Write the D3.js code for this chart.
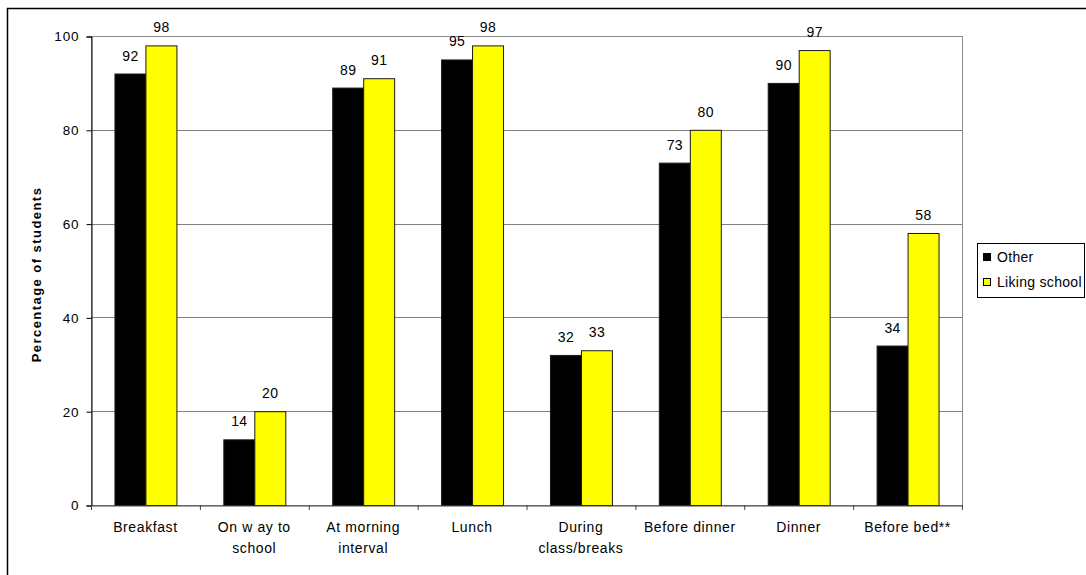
<!DOCTYPE html>
<html>
<head>
<meta charset="utf-8">
<script src="https://cdn.jsdelivr.net/npm/d3@7"></script>
<style>
  html, body { margin: 0; padding: 0; background: #fff; }
  svg { display: block; font-family: "Liberation Sans", Arial, sans-serif; }
</style>
</head>
<body>
<svg id="chart" width="1086" height="575"></svg>
<script>
// Meal / time-of-day categories (x labels, may wrap to two lines)
const categories = [
  ["Breakfast"],
  ["On w ay to", "school"],
  ["At morning", "interval"],
  ["Lunch"],
  ["During", "class/breaks"],
  ["Before dinner"],
  ["Dinner"],
  ["Before bed**"]
];
const seriesNames = ["Other", "Liking school"];
const otherValues = [92, 14, 89, 95, 32, 73, 90, 34];
const likingValues = [98, 20, 91, 98, 33, 80, 97, 58];
const yTicks = [0, 20, 40, 60, 80, 100];
const colors = ["#000000", "#ffff00"];

const svg = d3.select("#chart");

const plot = { left: 91, right: 962, top: 36, bottom: 505 };

const x0 = d3.scaleBand()
  .domain(d3.range(categories.length))
  .range([plot.left, plot.right])
  .padding(0);

const x1 = d3.scaleBand()
  .domain(seriesNames)
  .range([0, x0.bandwidth()])
  .paddingInner(0)
  .paddingOuter(0.757);

const y = d3.scaleLinear().domain([0, 100]).range([plot.bottom, plot.top]);

// Outer frame of the figure
svg.append("rect")
  .attr("x", 7.5).attr("y", 8.5)
  .attr("width", 1200).attr("height", 700)
  .attr("fill", "none").attr("stroke", "#000").attr("stroke-width", 1.5);

// Plot area outline (top and right in grey)
svg.append("rect")
  .attr("x", plot.left + 0.5).attr("y", plot.top + 0.5)
  .attr("width", plot.right - plot.left).attr("height", plot.bottom - plot.top)
  .attr("fill", "#fff").attr("stroke", "#8c8c8c").attr("stroke-width", 1);

// Horizontal gridlines
svg.append("g")
  .selectAll("line")
  .data(yTicks.filter(d => d > 0 && d < 100))
  .join("line")
  .attr("x1", plot.left).attr("x2", plot.right)
  .attr("y1", d => Math.round(y(d)) + 0.5).attr("y2", d => Math.round(y(d)) + 0.5)
  .attr("stroke", "#808080").attr("stroke-width", 1);

// Bars
const rows = categories.map((c, i) => ({ i, vals: [otherValues[i], likingValues[i]] }));

const groups = svg.append("g")
  .selectAll("g")
  .data(rows)
  .join("g")
  .attr("transform", d => `translate(${x0(d.i)},0)`);

groups.selectAll("rect")
  .data(d => d.vals.map((v, k) => ({ name: seriesNames[k], v, k })))
  .join("rect")
  .attr("x", d => x1(d.name) + 0.5)
  .attr("y", d => y(d.v) + 0.5)
  .attr("width", x1.bandwidth())
  .attr("height", d => y(0) - y(d.v))
  .attr("fill", d => colors[d.k])
  .attr("stroke", "#1a1a1a")
  .attr("stroke-width", 1);

// Value labels above bars
groups.selectAll("text")
  .data(d => d.vals.map((v, k) => ({ name: seriesNames[k], v, k })))
  .join("text")
  .attr("x", d => x1(d.name) + x1.bandwidth() / 2 + 0.5)
  .attr("y", d => y(d.v) - 13)
  .attr("text-anchor", "middle")
  .attr("font-size", 14)
  .attr("letter-spacing", 0.4)
  .attr("fill", "#000")
  .text(d => d.v);

// Y axis
const yAxis = d3.axisLeft(y).tickValues(yTicks).tickSize(5).tickPadding(7);
const gy = svg.append("g")
  .attr("transform", `translate(${plot.left + 0.5},0.5)`)
  .call(yAxis);
gy.select(".domain").attr("stroke", "#000");
gy.selectAll(".tick line").attr("stroke", "#000");
gy.selectAll(".tick text")
  .attr("font-size", 13.5).attr("letter-spacing", 0.9)
  .attr("font-family", "Liberation Sans, Arial, sans-serif")
  .attr("fill", "#000");

// X axis: baseline with ticks at category boundaries
const xAxis = d3.axisBottom(x0).tickSize(0).tickFormat("");
const gx = svg.append("g")
  .attr("transform", `translate(0,${plot.bottom + 0.5})`)
  .call(xAxis);
gx.select(".domain").attr("stroke", "#444");

svg.append("g")
  .selectAll("line")
  .data(d3.range(categories.length + 1))
  .join("line")
  .attr("x1", i => (i < categories.length ? x0(i) : plot.right) + 0.5)
  .attr("x2", i => (i < categories.length ? x0(i) : plot.right) + 0.5)
  .attr("y1", plot.bottom)
  .attr("y2", plot.bottom + 5)
  .attr("stroke", "#444");

// Category labels
const xl = svg.append("g")
  .selectAll("text")
  .data(categories.map((c, i) => ({ c, i })))
  .join("text")
  .attr("x", d => x0(d.i) + x0.bandwidth() / 2)
  .attr("y", 532)
  .attr("text-anchor", "middle")
  .attr("font-size", 14)
  .attr("letter-spacing", 0.6)
  .attr("fill", "#000");
xl.selectAll("tspan")
  .data(d => d.c.map((line, j) => ({ line, j, x: x0(d.i) + x0.bandwidth() / 2 })))
  .join("tspan")
  .attr("x", d => d.x)
  .attr("dy", d => d.j === 0 ? 0 : 20.5)
  .text(d => d.line);

// Y axis title
svg.append("text")
  .attr("transform", `translate(41,${(plot.top + plot.bottom) / 2 + 4}) rotate(-90)`)
  .attr("text-anchor", "middle")
  .attr("font-size", 13)
  .attr("font-weight", "bold")
  .attr("letter-spacing", 1.45)
  .attr("fill", "#000")
  .text("Percentage of students");

// Legend
const legend = svg.append("g");
legend.append("rect")
  .attr("x", 977.5).attr("y", 243.5)
  .attr("width", 107).attr("height", 54)
  .attr("fill", "#fff").attr("stroke", "#000").attr("stroke-width", 1);
const items = legend.selectAll("g.item")
  .data(seriesNames)
  .join("g")
  .attr("class", "item")
  .attr("transform", (d, i) => `translate(0,${i * 25})`);
items.append("rect")
  .attr("x", 983.5).attr("y", 253.5)
  .attr("width", 7).attr("height", 7)
  .attr("fill", (d, i) => colors[i])
  .attr("stroke", "#000").attr("stroke-width", 1);
items.append("text")
  .attr("x", 997).attr("y", 262)
  .attr("font-size", 14)
  .attr("letter-spacing", 0.3)
  .attr("fill", "#000")
  .text(d => d);
</script>
</body>
</html>
